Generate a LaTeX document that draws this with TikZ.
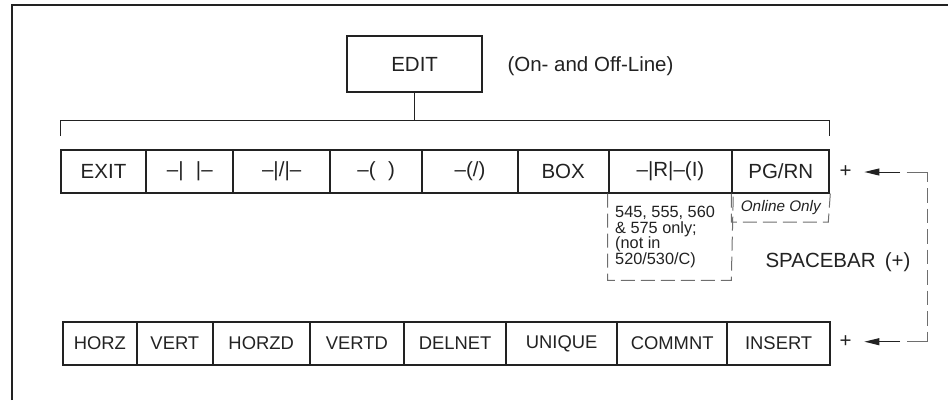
\documentclass[tikz,border=0pt]{standalone}
\usepackage{fontspec}
\setmainfont{Liberation Sans}
\usetikzlibrary{arrows.meta}
\definecolor{ink}{HTML}{222222}
\definecolor{dashgray}{HTML}{6E6E6E}
\begin{document}
\begin{tikzpicture}[x=1pt,y=-1pt,
  big/.style={font=\fontsize{20.5}{24}\selectfont},
  mid/.style={font=\fontsize{18.4}{22}\selectfont},
  cell/.style={draw=ink,line width=2pt,inner sep=0pt,text=ink,big,
    minimum height=42.5pt},
  lowcell/.style={draw=ink,line width=2pt,inner sep=0pt,text=ink,mid,
    minimum height=43pt},
  note/.style={draw=dashgray,line width=1pt,dash pattern=on 14pt off 6pt},
  link/.style={draw=dashgray,line width=1pt},
  thin/.style={draw=ink,line width=1pt},
  arr/.style={draw=ink,line width=1pt,-{Triangle[length=15pt,width=7pt]}}]
\useasboundingbox (0,0) rectangle (948,400);

% outer frame (top and left edges)
\draw[ink,line width=2pt] (12.3,400) -- (12.3,5.3) -- (948,5.3);

% EDIT menu head
\node[cell,minimum width=134.7pt,minimum height=56.3pt] (edit) at (414.65,64.15) {EDIT};
\node[big,text=ink,anchor=west,inner sep=0pt] (mode) at (507.3,66) {(On- and Off-Line)};

% top row of soft keys
\node[cell,minimum width=85.6pt]  (t1) at (103.5,171.25) {EXIT};
\node[cell,minimum width=87pt]    (t2) at (189.8,171.25) {–|\hspace{0.6em}|–};
\node[cell,minimum width=96.7pt]  (t3) at (281.65,171.25) {–|/|–};
\node[cell,minimum width=92.3pt]  (t4) at (376.15,171.25) {–(\hspace{0.6em})};
\node[cell,minimum width=95.4pt]  (t5) at (470,171.25) {–(/)};
\node[cell,minimum width=91pt]    (t6) at (563.2,171.25) {BOX};
\node[cell,minimum width=123.6pt] (t7) at (670.5,171.25) {–|R|–(I)};
\node[cell,minimum width=97pt]    (t8) at (780.8,171.25) {PG/RN};

% bottom row of soft keys
\node[lowcell,minimum width=74.3pt]  (b1) at (99.85,343.5) {HORZ};
\node[lowcell,minimum width=75.7pt]  (b2) at (174.85,343.5) {VERT};
\node[lowcell,minimum width=97pt]    (b3) at (261.2,343.5) {HORZD};
\node[lowcell,minimum width=94.3pt]  (b4) at (356.85,343.5) {VERTD};
\node[lowcell,minimum width=102.3pt] (b5) at (455.15,343.5) {DELNET};
\node[lowcell,minimum width=110.7pt] (b6) at (561.65,343.5) {UNIQUE};
\node[lowcell,minimum width=110.3pt] (b7) at (672.15,343.5) {COMMNT};
\node[lowcell,minimum width=102.7pt] (b8) at (778.65,343.5) {INSERT};

% bracket from EDIT over the top row (ticks hang down)
\coordinate (bl) at (60.7,120.7);
\coordinate (br) at (829.7,120.7);
\draw[thin] (edit.south) -- (edit.south |- bl);
\draw[thin] ([yshift=-15.3pt]bl) -- (bl) -- (br) -- ([yshift=-15.3pt]br);

% availability notes under the keys
\draw[note] (t7.south west) -- ++(0,86.8) -- ++(123.6,0) -- (t7.south east);
\draw[note] (t8.south west) -- ++(0,28.5) -- ++(97,0) -- (t8.south east);
\node[font=\fontsize{16.3}{15.7}\selectfont,text=ink,align=left,anchor=north west,inner sep=0pt]
  (n7) at (615,206) {545, 555, 560\\\& 575 only;\\(not in\\520/530/C)};
\node[font=\fontsize{15.3}{18}\selectfont\itshape,text=ink,inner sep=0pt]
  (n8) at (780.8,207.5) {Online Only};

% spacebar toggling between the rows
\node[big,text=ink,inner sep=0pt] (plusT) at (845.7,172) {+};
\node[big,text=ink,inner sep=0pt] (plusB) at (845.7,341.7) {+};
\node[big,text=ink,inner sep=0pt] (space) at (838,261.7) {SPACEBAR\hspace{0.45em}(+)};
\coordinate (cT) at (927,172);
\coordinate (cB) at (927,341.7);
\coordinate (aT) at (900,172);
\coordinate (aB) at (900,341.7);
% corner dashes, then an evenly broken run between them
\draw[link] ([xshift=6.7pt]aT) -- (cT) -- ([yshift=-10pt]cT);
\draw[link] ([yshift=10pt]cB) -- (cB) -- ([xshift=6.7pt]aB);
\draw[link,dash pattern=on 14.53pt off 6pt,dash phase=14.53pt]
  ([yshift=-10pt]cT) -- ([yshift=10pt]cB);
\draw[arr,shorten >=12.5pt] (aT) -- (plusT.east);
\draw[arr,shorten >=12.5pt] (aB) -- (plusB.east);
\end{tikzpicture}
\end{document}
